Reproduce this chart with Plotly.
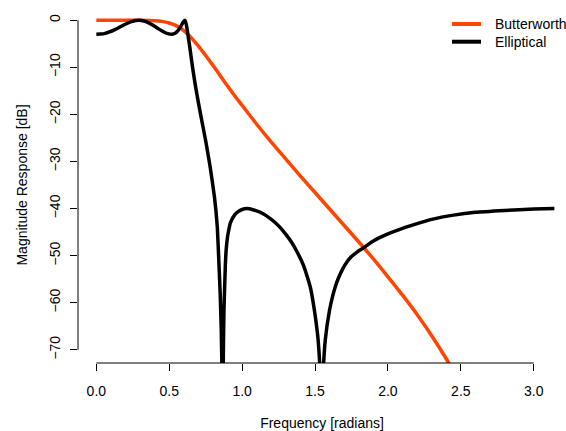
import plotly.graph_objects as go

# Frequency grid (radians) and magnitude responses (dB)
butter_freq = [0, 0.1, 0.2, 0.3, 0.4, 0.45, 0.5, 0.55, 0.6, 0.65, 0.7, 0.75, 0.8, 0.85,
               0.9, 0.95, 1.0, 1.1, 1.2, 1.3, 1.4, 1.5, 1.6, 1.7, 1.8, 1.9, 2.0, 2.1,
               2.2, 2.3, 2.4, 2.5]
butter_db = [0, 0, 0, -0.01, -0.1, -0.25, -0.6, -1.2, -2.2, -3.7, -5.5, -7.5, -9.6, -11.8,
             -14.0, -16.1, -18.1, -22.1, -25.9, -29.5, -33.1, -36.6, -40.1, -43.6, -47.1,
             -50.7, -54.5, -58.4, -62.5, -67.0, -71.9, -77.3]

ellip_freq = [0, 0.03, 0.06, 0.09, 0.12, 0.15, 0.18, 0.21, 0.24, 0.27, 0.29, 0.31, 0.34,
              0.37, 0.40, 0.43, 0.46, 0.49, 0.52, 0.54, 0.56, 0.58, 0.595, 0.607, 0.617,
              0.628, 0.64, 0.66, 0.68, 0.70, 0.72, 0.75, 0.78, 0.81, 0.83, 0.841, 0.85,
              0.857, 0.862, 0.866, 0.87, 0.875, 0.885, 0.89, 0.9, 0.91, 0.92, 0.95, 0.975,
              1.0, 1.03, 1.08, 1.15, 1.22, 1.26, 1.3, 1.34, 1.37, 1.42, 1.45, 1.47, 1.485,
              1.5, 1.52, 1.535, 1.545, 1.555, 1.57, 1.6, 1.62, 1.64, 1.66, 1.69, 1.72,
              1.75, 1.79, 1.83, 1.9, 2.0, 2.1, 2.2, 2.3, 2.45, 2.6, 2.8, 3.0, 3.1416]
ellip_db = [-3.0, -2.95, -2.8, -2.5, -2.1, -1.65, -1.15, -0.7, -0.3, -0.05, 0.0, -0.05, -0.3,
            -0.75, -1.3, -1.9, -2.45, -2.85, -3.0, -2.8, -2.2, -1.3, -0.45, 0.0, -0.9,
            -3.0, -5.5, -10.0, -14.0, -17.5, -20.8, -25.6, -31.0, -37.5, -44.0, -51.8, -58.5,
            -66.0, -75.0, -110.0, -74.0, -62.0, -52.0, -49.0, -46.0, -44.3, -43.0, -41.3, -40.6,
            -40.2, -40.0, -40.3, -41.2, -42.8, -44.0, -45.5, -47.2, -48.8, -52.0, -54.8, -57.0, -59.5,
            -62.5, -67.5, -75.0, -110.0, -76.0, -68.0, -61.5, -58.7, -56.5, -54.8, -52.8, -51.3,
            -50.2, -49.2, -48.4, -46.9, -45.4, -44.2, -43.2, -42.3, -41.4, -40.8, -40.4, -40.1, -40.0]

x_ticks = [0.0, 0.5, 1.0, 1.5, 2.0, 2.5, 3.0]
x_ticklabels = ["0.0", "0.5", "1.0", "1.5", "2.0", "2.5", "3.0"]
y_ticks = [0, -10, -20, -30, -40, -50, -60, -70]
y_ticklabels = ["0", "\u221210", "\u221220", "\u221230", "\u221240", "\u221250", "\u221260", "\u221270"]

series_names = ["Butterworth", "Elliptical"]
series_colors = ["#FF4500", "black"]

FONT = "Liberation Sans, Arial, sans-serif"

fig = go.Figure()
fig.add_trace(go.Scatter(x=butter_freq, y=butter_db, mode="lines", name=series_names[0],
                         line=dict(color=series_colors[0], width=3.5, shape="spline", smoothing=0.6)))
fig.add_trace(go.Scatter(x=ellip_freq, y=ellip_db, mode="lines", name=series_names[1],
                         line=dict(color=series_colors[1], width=3.5, shape="spline", smoothing=0.4)))

# R-style axis lines spanning first to last tick
fig.add_shape(type="line", xref="x", yref="paper", x0=x_ticks[0], x1=x_ticks[-1], y0=0, y1=0,
              line=dict(color="black", width=1))
fig.add_shape(type="line", xref="paper", yref="y", x0=0, x1=0, y0=y_ticks[-1], y1=y_ticks[0],
              line=dict(color="black", width=1))

# Legend drawn R-style (top right, no box)
leg_y = [0.9522, 0.9025]
for name, col, ly in zip(series_names, series_colors, leg_y):
    fig.add_shape(type="line", xref="paper", yref="paper", x0=0.7664, x1=0.8258, y0=ly, y1=ly,
                  line=dict(color=col, width=4))
    fig.add_annotation(xref="paper", yref="paper", x=0.8504, y=ly, text=name, showarrow=False,
                       xanchor="left", yanchor="middle", font=dict(size=14, color="black"))

fig.update_layout(
    width=566, height=431,
    margin=dict(l=78, r=0, t=7, b=68),
    paper_bgcolor="white", plot_bgcolor="white",
    font=dict(family=FONT, size=14, color="black"),
    showlegend=False,
    xaxis=dict(range=[-0.1257, 3.2213], showgrid=False, zeroline=False, showline=False,
               tickmode="array", tickvals=x_ticks, ticktext=x_ticklabels,
               ticks="outside", ticklen=7, tickcolor="black", tickwidth=1,
               ticklabelstandoff=8, tickfont=dict(size=14),
               title=dict(text="Frequency [radians]", standoff=22, font=dict(size=14))),
    yaxis=dict(range=[-72.8, 2.8], showgrid=False, zeroline=False, showline=False,
               tickmode="array", tickvals=y_ticks, ticktext=y_ticklabels,
               ticks="outside", ticklen=7, tickcolor="black", tickwidth=1,
               tickangle=-90, ticklabelstandoff=4, tickfont=dict(size=14),
               title=dict(text="Magnitude Response [dB]", standoff=16, font=dict(size=14))),
)

fig.write_html("out.html")
